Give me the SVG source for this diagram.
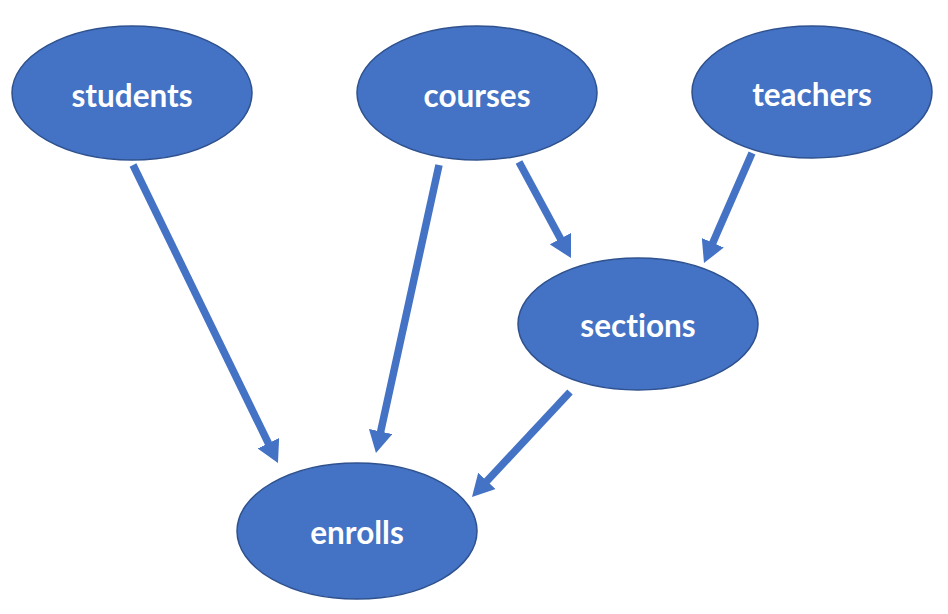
<svg xmlns="http://www.w3.org/2000/svg" width="948" height="614" viewBox="0 0 948 614">
<defs>
<style>
.node ellipse{fill:#4472C4;stroke:#2F528F;stroke-width:1.5}
.node text{fill:#ffffff;font-family:Lato,"Open Sans","Liberation Sans",sans-serif;font-weight:bold;font-size:31.5px;text-anchor:middle;dominant-baseline:central;font-variant-ligatures:none}
.edge{stroke:#4472C4;stroke-width:7.5;fill:none;marker-end:url(#ah)}
</style>
<marker id="ah" markerUnits="userSpaceOnUse" markerWidth="22" markerHeight="24" refX="12" refY="12" orient="auto" viewBox="0 0 22 24">
<path d="M0,0 L22,12 L0,24 z" fill="#4472C4"/>
</marker>
</defs>
<rect width="948" height="614" fill="#ffffff"/>
<g id="connectors">
<line class="edge" x1="133" y1="165" x2="273.6" y2="454"/>
<line class="edge" x1="439" y1="165" x2="378.1" y2="443.2"/>
<line class="edge" x1="570" y1="392" x2="478.8" y2="489.7"/>
<line class="edge" x1="519" y1="162" x2="566.2" y2="249.2"/>
<line class="edge" x1="752" y1="153" x2="708" y2="253.8"/>
</g>
<g id="students" class="node"><ellipse cx="132" cy="93" rx="120" ry="67"/><text x="132" y="95">students</text></g>
<g id="courses" class="node"><ellipse cx="477" cy="93" rx="120" ry="67"/><text x="477" y="95">courses</text></g>
<g id="teachers" class="node"><ellipse cx="812" cy="92" rx="120" ry="66"/><text x="812" y="94">teachers</text></g>
<g id="sections" class="node"><ellipse cx="638" cy="324" rx="120" ry="66"/><text x="638" y="325">sections</text></g>
<g id="enrolls" class="node"><ellipse cx="357" cy="531" rx="120" ry="68"/><text x="357" y="532">enrolls</text></g>
</svg>
